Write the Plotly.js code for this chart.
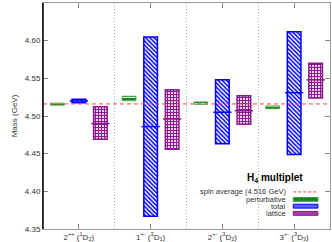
<!DOCTYPE html>
<html><head><meta charset="utf-8">
<script src="https://cdn.plot.ly/plotly-3.0.1.min.js"></script>
<style>html,body{margin:0;padding:0;background:#fff}#c{width:332px;height:242px}</style>
</head><body><div id="c"></div>
<script>
var categories = ['2<sup>++</sup> (<sup>1</sup>D<sub>2</sub>)', '1<sup>+-</sup> (<sup>3</sup>D<sub>1</sub>)', '2<sup>+-</sup> (<sup>3</sup>D<sub>2</sub>)', '3<sup>+-</sup> (<sup>3</sup>D<sub>3</sub>)'];
var pertLow  = [4.5145, 4.5203, 4.5157, 4.5097];
var pertHigh = [4.5170, 4.5262, 4.5186, 4.5133];
var totLow   = [4.5177, 4.367, 4.463, 4.449];
var totHigh  = [4.5222, 4.605, 4.548, 4.612];
var totMid   = [4.520, 4.486, 4.505, 4.531];
var latLow   = [4.469, 4.456, 4.489, 4.524];
var latHigh  = [4.5124, 4.535, 4.527, 4.570];
var latMid   = [4.490, 4.496, 4.507, 4.548];
var spinAvg  = 4.516;
var yTicks   = [4.35, 4.40, 4.45, 4.50, 4.55, 4.60, 4.65];

var OFF = 0.3, W = 0.19;
function xs(off){ return categories.map(function(_, i){ return i + 0.5 + off; }); }
function diff(h, l){ return h.map(function(v, i){ return v - l[i]; }); }

var green = '#1f7f1f', blue = '#0000ff', purple = '#8b1a8b', red = '#ff4444';

var traces = [
  {type:'bar', x: xs(-OFF), y: diff(pertHigh, pertLow), base: pertLow, width: W,
   marker:{color: green, line:{color:'#3aa03a', width:1},
   pattern:{shape:'-', fgcolor:'#ffffff', bgcolor: green, size:3, solidity:0.3, fillmode:'replace'}}},
  {type:'bar', x: xs(0), y: diff(totHigh, totLow), base: totLow, width: W,
   marker:{color: blue, line:{color: blue, width:1.5},
   pattern:{shape:'\\', fgcolor: blue, bgcolor:'#ffffff', size:3, solidity:0.5, fillmode:'replace'}}},
  {type:'bar', x: xs(OFF), y: diff(latHigh, latLow), base: latLow, width: W,
   marker:{color: purple, line:{color: purple, width:1.5},
   pattern:{shape:'+', fgcolor: purple, bgcolor:'#f4e0f4', size:3, solidity:0.62, fillmode:'replace'}}},
  {type:'scatter', mode:'markers', x: xs(0), y: totMid,
   marker:{symbol:'line-ew', size:13, line:{color: blue, width:1.5}}},
  {type:'scatter', mode:'markers', x: xs(OFF), y: latMid,
   marker:{symbol:'line-ew', size:13, line:{color: purple, width:1.5}}},
  {type:'scatter', mode:'lines', x:[0, categories.length], y:[spinAvg, spinAvg],
   line:{color: red, width:1, dash:'4px,3px'}}
];

var fnt = {family:'Liberation Sans, Arial, sans-serif', size:8, color:'#333'};
var lfnt = {family:'Liberation Sans, Arial, sans-serif', size:7.5, color:'#333'};
var lx0 = 0.872, lx1 = 0.958, lh = 0.017;
var rows = [0.131, 0.101, 0.069];
var shapes = [
  {type:'line', xref:'paper', yref:'paper', x0:0, x1:0, y0:0, y1:1, line:{color:'#000', width:1.5}},
  {type:'line', xref:'paper', yref:'paper', x0:lx0, x1:lx1, y0:0.164, y1:0.164, line:{color:red, width:1, dash:'3px,2px'}},
  {type:'rect', xref:'paper', yref:'paper', x0:lx0, x1:lx1, y0:rows[0]-lh/2, y1:rows[0]+lh/2, fillcolor:green, line:{color:'#3aa03a', width:1}},
  {type:'rect', xref:'paper', yref:'paper', x0:lx0, x1:lx1, y0:rows[1]-lh/2, y1:rows[1]+lh/2, fillcolor:'#6060ff', line:{color:blue, width:1}},
  {type:'rect', xref:'paper', yref:'paper', x0:lx0, x1:lx1, y0:rows[2]-lh/2, y1:rows[2]+lh/2, fillcolor:'#a040a0', line:{color:purple, width:1}}
];
var annotations = [
  {xref:'paper', yref:'paper', x:0.809, y:0.226, text:'<b>H<sub>4</sub> multiplet</b>', showarrow:false,
   font:{family:'Liberation Sans, Arial, sans-serif', size:10, color:'#000'}, xanchor:'center', yanchor:'middle'},
  {xref:'paper', yref:'paper', x:0.854, y:0.164, text:'spin average (4.516 GeV)', showarrow:false, font:lfnt, xanchor:'right', yanchor:'middle'},
  {xref:'paper', yref:'paper', x:0.854, y:rows[0], text:'perturbative', showarrow:false, font:lfnt, xanchor:'right', yanchor:'middle'},
  {xref:'paper', yref:'paper', x:0.854, y:rows[1], text:'total', showarrow:false, font:lfnt, xanchor:'right', yanchor:'middle'},
  {xref:'paper', yref:'paper', x:0.854, y:rows[2], text:'lattice', showarrow:false, font:lfnt, xanchor:'right', yanchor:'middle'}
];

var layout = {
  width:332, height:242, margin:{l:43, r:2, t:3, b:13},
  paper_bgcolor:'#fff', plot_bgcolor:'#fff', showlegend:false, barmode:'overlay',
  font: fnt,
  xaxis:{range:[0, categories.length], tickmode:'array', tickvals: xs(0), ticktext: categories,
    ticks:'inside', ticklen:5, tickcolor:'#888', showline:true, linecolor:'#999', linewidth:1, mirror:'ticks',
    showgrid:false, zeroline:false, tickfont:fnt, fixedrange:true,
    minor:{tickmode:'array', tickvals:[1,2,3], showgrid:true, gridcolor:'#b0b0b0', griddash:'1px,2px', gridwidth:1, ticklen:0}},
  yaxis:{range:[4.35, 4.65], tickmode:'array', tickvals: yTicks, ticktext: yTicks.map(function(v){return v.toFixed(2);}),
    ticks:'inside', ticklen:5, tickcolor:'#888', showline:true, linecolor:'#999', linewidth:1, mirror:'ticks',
    showgrid:false, zeroline:false, tickfont:fnt, fixedrange:true,
    title:{text:'Mass (GeV)', font:{family:'Liberation Sans, Arial, sans-serif', size:8, color:'#333'}, standoff:6}},
  shapes: shapes, annotations: annotations
};
Plotly.newPlot('c', traces, layout, {staticPlot:true, displayModeBar:false});
</script></body></html>
